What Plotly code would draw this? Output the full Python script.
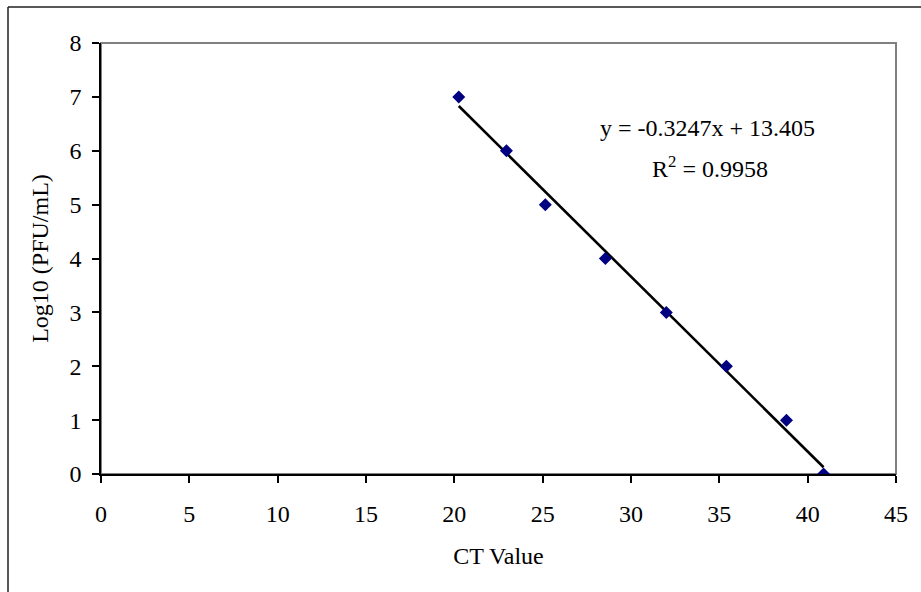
import plotly.graph_objects as go

# Standard curve: CT value vs. log10 titre
ct_values = [20.25, 22.95, 25.15, 28.55, 32.0, 35.4, 38.8, 40.9]
log_pfu = [7, 6, 5, 4, 3, 2, 1, 0]

# Linear trendline coefficients and fit quality
slope = -0.3247
intercept = 13.405
r_squared = 0.9958

x_ticks = [0, 5, 10, 15, 20, 25, 30, 35, 40, 45]
y_ticks = [0, 1, 2, 3, 4, 5, 6, 7, 8]

W, H = 921, 592
ML, MR, MT, MB = 101, 25, 43, 118
PW, PH = W - ML - MR, H - MT - MB

FONT = "Liberation Serif, Times New Roman, serif"
FS = 24

x_fit = [min(ct_values), max(ct_values)]
y_fit = [slope * x + intercept for x in x_fit]

fig = go.Figure()
fig.add_trace(go.Scatter(
    x=x_fit, y=y_fit, mode="lines",
    line=dict(color="black", width=2.6),
    hoverinfo="skip", showlegend=False,
))
fig.add_trace(go.Scatter(
    x=ct_values, y=log_pfu, mode="markers",
    marker=dict(symbol="diamond", size=10, color="#000080",
                line=dict(width=0)),
    showlegend=False,
))

eq_text = f"y = {slope}x + {intercept}"
r_text = f"R<sup>2</sup> = {r_squared}"
fig.add_annotation(x=34.33, y=6.42, text=eq_text, showarrow=False,
                   xanchor="center", yanchor="middle",
                   font=dict(family=FONT, size=FS, color="black"))
fig.add_annotation(x=34.45, y=5.70, text=r_text, showarrow=False,
                   xanchor="center", yanchor="middle",
                   font=dict(family=FONT, size=FS, color="black"))

# Plot-area frame (top/right in grey, axes drawn over it in black)
fig.add_shape(type="rect", xref="paper", yref="paper", x0=0, y0=0, x1=1, y1=1,
              line=dict(color="#808080", width=2), layer="below")

# Chart-area border
bx = (8 - ML) / PW
by = 1 + (MT - 7) / PH
fig.add_shape(type="line", xref="paper", yref="paper",
              x0=bx, y0=by, x1=(W - ML + 5) / PW, y1=by,
              line=dict(color="#202020", width=1.5))
fig.add_shape(type="line", xref="paper", yref="paper",
              x0=bx, y0=by, x1=bx, y1=-(MB + 5) / PH,
              line=dict(color="#202020", width=1.5))

fig.update_layout(
    width=W, height=H,
    margin=dict(l=ML, r=MR, t=MT, b=MB),
    paper_bgcolor="white", plot_bgcolor="white",
    font=dict(family=FONT, size=FS, color="black"),
    xaxis=dict(
        range=[0, 45], tickvals=x_ticks, ticktext=[str(v) for v in x_ticks],
        showgrid=False, zeroline=False,
        showline=True, linecolor="black", linewidth=1.5,
        ticks="outside", ticklen=7, tickcolor="black", tickwidth=1.5,
        ticklabelstandoff=10,
        title=dict(text="CT Value", font=dict(family=FONT, size=FS), standoff=22),
    ),
    yaxis=dict(
        range=[0, 8], tickvals=y_ticks, ticktext=[str(v) for v in y_ticks],
        showgrid=False, zeroline=False,
        showline=True, linecolor="black", linewidth=1.5,
        ticks="outside", ticklen=7, tickcolor="black", tickwidth=1.5,
        ticklabelstandoff=6,
        title=dict(text="Log10 (PFU/mL)", font=dict(family=FONT, size=FS), standoff=14),
    ),
)

fig.write_html("out.html")
